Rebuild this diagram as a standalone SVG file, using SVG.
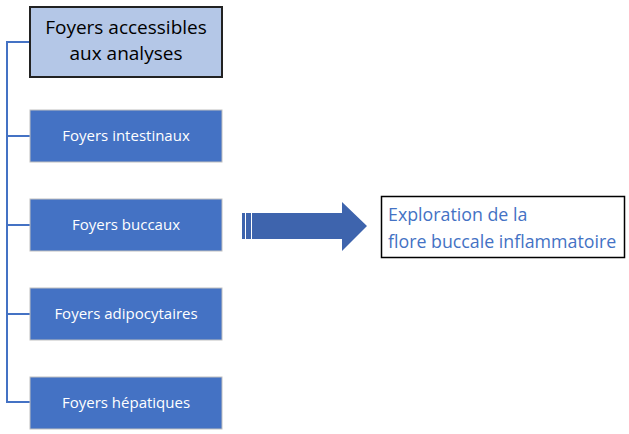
<svg xmlns="http://www.w3.org/2000/svg" width="629" height="434" viewBox="0 0 629 434">
<style>
.box{fill:#4472C4;stroke:#BFBFBF;stroke-width:1}
.lbl{font-family:"Open Sans","Liberation Sans",Arial,sans-serif;font-size:15px;fill:#FFFFFF;text-anchor:middle}
.conn{fill:none;stroke:#4472C4;stroke-width:2}
.top{font-family:"Open Sans","Liberation Sans",Arial,sans-serif;font-size:19px;fill:#000;text-anchor:middle}
.res{font-family:"Open Sans","Liberation Sans",Arial,sans-serif;font-size:17.8px;fill:#4472C4}
</style>
<rect width="629" height="434" fill="#FFFFFF"/>
<g id="connectors">
<path class="conn" d="M30,42 H7 V402 H30 M7,136 H30 M7,225 H30 M7,314 H30"/>
</g>
<g id="root">
<rect x="30" y="7" width="192" height="70" fill="#B4C7E7" stroke="#222" stroke-width="2"/>
<text class="top" x="126" y="34">Foyers accessibles</text>
<text class="top" x="126" y="60">aux analyses</text>
</g>
<g id="n1"><rect class="box" x="30" y="110" width="192" height="52"/><text class="lbl" x="126" y="141">Foyers intestinaux</text></g>
<g id="n2"><rect class="box" x="30" y="199" width="192" height="52"/><text class="lbl" x="126" y="230">Foyers buccaux</text></g>
<g id="n3"><rect class="box" x="30" y="288" width="192" height="52"/><text class="lbl" x="126" y="319">Foyers adipocytaires</text></g>
<g id="n4"><rect class="box" x="30" y="377" width="192" height="52"/><text class="lbl" x="126" y="408">Foyers hépatiques</text></g>
<g id="arrow">
<rect x="242" y="213" width="3" height="26" fill="#3E64AD"/>
<rect x="246" y="213" width="5" height="26" fill="#3E64AD"/>
<polygon points="252,213 342,213 342,202 367,226 342,251 342,239 252,239" fill="#3E64AD"/>
</g>
<g id="result">
<rect x="381.5" y="196.5" width="243" height="61" fill="#FFFFFF" stroke="#000" stroke-width="1.5"/>
<text class="res" x="388" y="221">Exploration de la</text>
<text class="res" x="388" y="248">flore buccale inflammatoire</text>
</g>
</svg>
